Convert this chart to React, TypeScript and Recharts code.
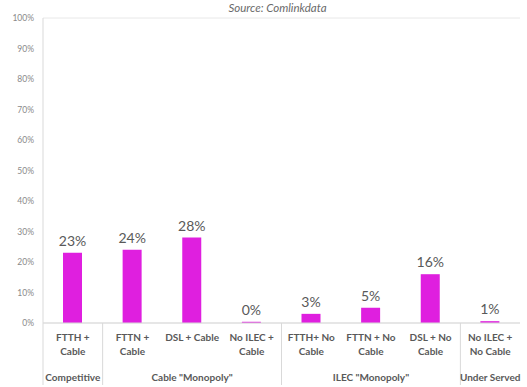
import React from "react";
import {
  BarChart,
  Bar,
  XAxis,
  YAxis,
  CartesianGrid,
  LabelList,
} from "recharts";

// Broadband market structure: share of households by provider mix
const categoryLine1 = [
  "FTTH +",
  "FTTN +",
  "DSL + Cable",
  "No ILEC +",
  "FTTH+ No",
  "FTTN + No",
  "DSL + No",
  "No ILEC +",
];
const categoryLine2 = ["Cable", "Cable", "", "Cable", "Cable", "Cable", "Cable", "No Cable"];
const categoryGroup = [
  "Competitive",
  'Cable "Monopoly"',
  'Cable "Monopoly"',
  'Cable "Monopoly"',
  'ILEC "Monopoly"',
  'ILEC "Monopoly"',
  'ILEC "Monopoly"',
  "Under Served",
];
const shareValues = [0.23, 0.24, 0.28, 0.004, 0.03, 0.05, 0.16, 0.006];
const yTicks = [0, 0.1, 0.2, 0.3, 0.4, 0.5, 0.6, 0.7, 0.8, 0.9, 1];

const data = shareValues.map((v, i) => ({
  key: String(i),
  share: v,
}));

const W = 527;
const H = 387;
const MARGIN = { top: 18, right: 7, bottom: 0, left: 0 };
const Y_AXIS_W = 43;
const X_AXIS_H = 64;
const PLOT_W = W - MARGIN.left - MARGIN.right - Y_AXIS_W;
const STEP = PLOT_W / data.length;
const TICK_GAP = 8; // distance recharts puts between the axis line and the tick anchor

const FONT = "Lato, 'Open Sans', sans-serif";
const TEXT = "#595959";
const LINE = "#d9d9d9";
const MAGENTA = "#DF1FDF";

const pct = (v: number) => `${Math.round(v * 100)}%`;

function CategoryTick(props: any) {
  const { x, y, payload } = props;
  const axisY = y - TICK_GAP;
  const i = Number(payload.value);
  const group = categoryGroup[i];
  const isGroupStart = i === 0 || categoryGroup[i - 1] !== group;
  const isGroupEnd = i === data.length - 1 || categoryGroup[i + 1] !== group;
  let groupCenter = x;
  if (isGroupEnd) {
    let start = i;
    while (start > 0 && categoryGroup[start - 1] === group) start--;
    groupCenter = x - ((i - start) * STEP) / 2;
  }
  const labelStyle = {
    fontFamily: FONT,
    fontSize: 10,
    fontWeight: 700,
    fill: TEXT,
  } as const;
  return (
    <g>
      {isGroupStart && (
        <line
          x1={x - STEP / 2}
          x2={x - STEP / 2}
          y1={axisY}
          y2={axisY + 62}
          stroke={LINE}
          strokeWidth={1}
        />
      )}
      <text x={x} y={axisY + 18} textAnchor="middle" {...labelStyle}>
        {categoryLine1[i]}
      </text>
      {categoryLine2[i] && (
        <text x={x} y={axisY + 32} textAnchor="middle" {...labelStyle}>
          {categoryLine2[i]}
        </text>
      )}
      {isGroupEnd && (
        <text x={groupCenter} y={axisY + 58} textAnchor="middle" {...labelStyle}>
          {group}
        </text>
      )}
    </g>
  );
}

export default function App() {
  return (
    <div style={{ position: "absolute", left: 0, top: 0, width: W, height: H, background: "#fff" }}>
      <BarChart width={W} height={H} data={data} margin={MARGIN} barCategoryGap={0}>
        <text
          x={MARGIN.left + Y_AXIS_W + PLOT_W / 2 - 4}
          y={12}
          textAnchor="middle"
          fontFamily={FONT}
          fontSize={11.5}
          fontStyle="italic"
          fill="#6a6a6a"
        >
          Source: Comlinkdata
        </text>
        <CartesianGrid vertical={false} stroke="#e8e8e8" />
        <XAxis
          dataKey="key"
          height={X_AXIS_H}
          axisLine={{ stroke: LINE }}
          tickLine={false}
          interval={0}
          tick={<CategoryTick />}
        />
        <YAxis
          yAxisId="left"
          width={Y_AXIS_W}
          domain={[0, 1]}
          ticks={yTicks}
          tickFormatter={pct}
          axisLine={{ stroke: LINE }}
          tickLine={false}
          tick={{ fontFamily: FONT, fontSize: 8.5, fill: "#8a8a8a" }}
          tickMargin={3}
        />
        <YAxis
          yAxisId="right"
          orientation="right"
          width={0}
          domain={[0, 1]}
          ticks={yTicks}
          tick={false}
          tickLine={false}
          axisLine={{ stroke: LINE }}
        />
        <Bar
          yAxisId="left"
          dataKey="share"
          fill={MAGENTA}
          barSize={19}
          isAnimationActive={false}
        >
          <LabelList
            dataKey="share"
            position="top"
            offset={7}
            formatter={(v: any) => pct(Number(v))}
            style={{ fontFamily: FONT, fontSize: 14, fill: TEXT }}
          />
        </Bar>
      </BarChart>
    </div>
  );
}
